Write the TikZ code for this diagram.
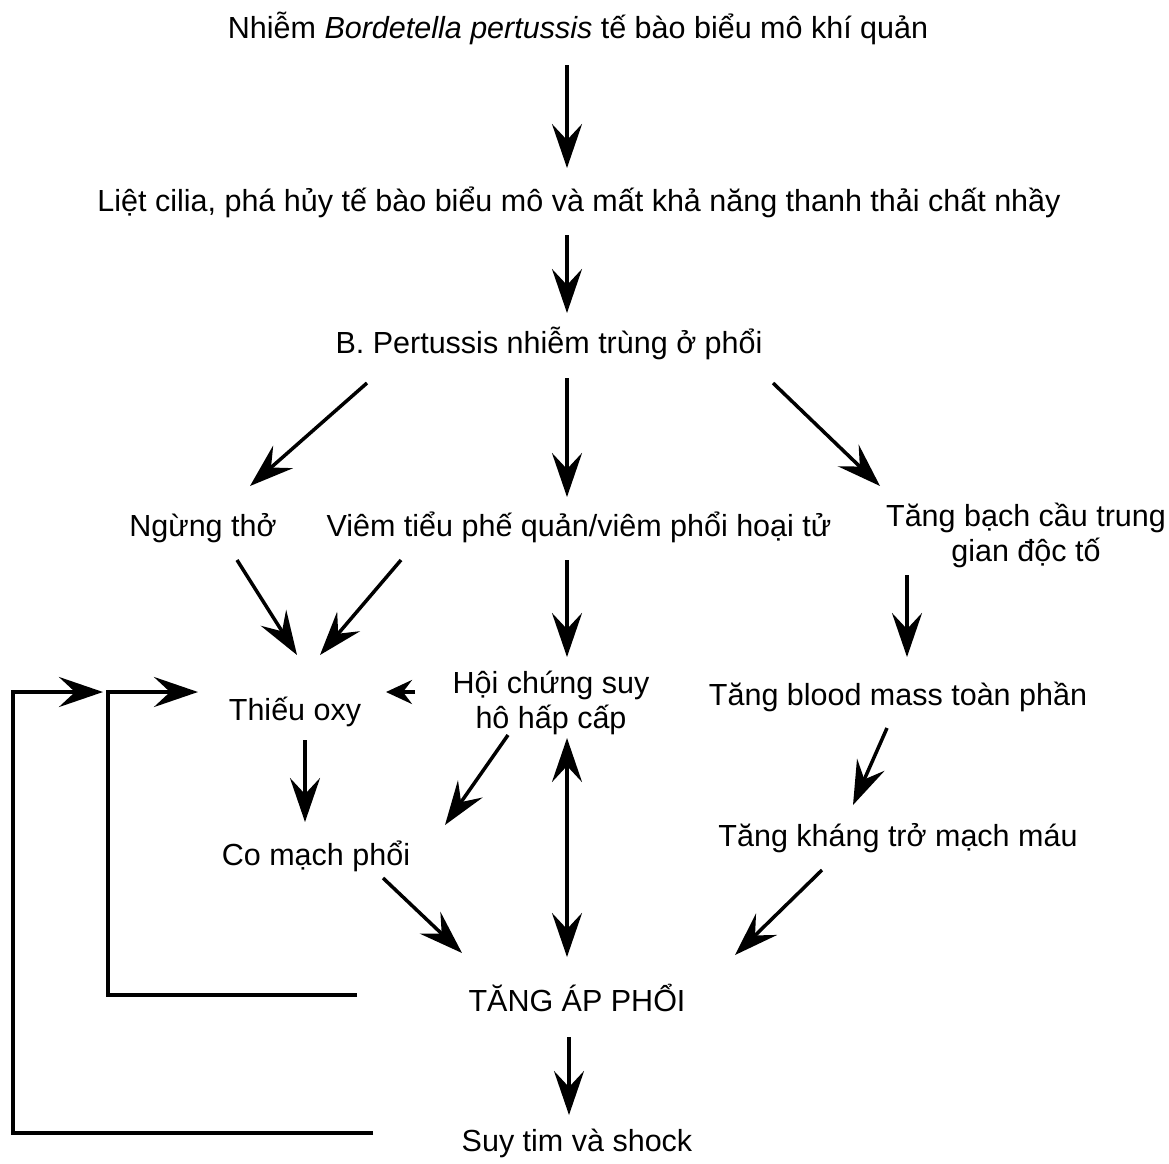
\documentclass[tikz,border=0pt]{standalone}
\usepackage{fontspec}
\setmainfont{Liberation Sans}
\usetikzlibrary{arrows.meta}
\tikzset{
        txt/.style={inner sep=0pt,text height=24pt,text depth=8pt,font=\fontsize{30.5}{35}\selectfont},
        txt2/.style={inner sep=0pt,align=center,font=\fontsize{30.5}{35}\selectfont},
        arr/.style={line width=3.5pt,-{Stealth[length=44pt,width=30pt,inset=16pt]}},
        fb/.style={line width=4pt,-{Stealth[length=44pt,width=30pt,inset=16pt]}}
}
\begin{document}
\begin{tikzpicture}[x=1pt,y=-1pt]
        \useasboundingbox[fill=white] (0,0) rectangle (1169,1163);
        \node[txt] (nhiem) at (578,30) {Nhiễm \textit{Bordetella pertussis} tế bào biểu mô khí quản};
        \node[txt] (liet) at (579,203) {Liệt cilia, phá hủy tế bào biểu mô và mất khả năng thanh thải chất nhầy};
        \node[txt] (bp) at (549,345) {B. Pertussis nhiễm trùng ở phổi};
        \node[txt] (ngung) at (203,528) {Ngừng thở};
        \node[txt] (viem) at (579,528) {Viêm tiểu phế quản/viêm phổi hoại tử};
        \node[txt2] (bach) at (1026,535) {Tăng bạch cầu trung\\gian độc tố};
        \node[txt] (thieu) at (295,712) {Thiếu oxy};
        \node[txt2] (hoi) at (551,703) {Hội chứng suy\\hô hấp cấp};
        \node[txt] (blood) at (898,697) {Tăng blood mass toàn phần};
        \node[txt] (co) at (316,857) {Co mạch phổi};
        \node[txt] (khang) at (898,838) {Tăng kháng trở mạch máu};
        \node[txt] (tang) at (577,1003) {TĂNG ÁP PHỔI};
        \node[txt] (suy) at (577,1143) {Suy tim và shock};
        \draw[arr] ([shift={(-11,35)}]nhiem.center) -- ([shift={(-12,-35)}]liet.center);
        \draw[arr] ([shift={(-12,32)}]liet.center) -- ([shift={(18,-32)}]bp.center);
        \draw[arr] ([shift={(-182,38)}]bp.center) -- ([shift={(47,-42)}]ngung.center);
        \draw[arr] ([shift={(18,33)}]bp.center) -- ([shift={(-12,-31)}]viem.center);
        \draw[arr] ([shift={(224,38)}]bp.center) -- ([shift={(-146,-49)}]bach.center);
        \draw[arr] ([shift={(34,32)}]ngung.center) -- ([shift={(2,-57)}]thieu.center);
        \draw[arr] ([shift={(-178,32)}]viem.center) -- ([shift={(25,-57)}]thieu.center);
        \draw[arr] ([shift={(-12,32)}]viem.center) -- ([shift={(16,-46)}]hoi.center);
        \draw[arr] ([shift={(-119,40)}]bach.center) -- ([shift={(9,-40)}]blood.center);
        \draw[arr,-{Stealth[length=26pt,width=24pt,inset=9pt]}] ([shift={(-136,-11)}]hoi.center) -- ([shift={(91,-20)}]thieu.center);
        \draw[arr] ([shift={(10,28)}]thieu.center) -- ([shift={(-11,-35)}]co.center);
        \draw[arr] ([shift={(-43,32)}]hoi.center) -- ([shift={(129,-32)}]co.center);
        \draw[arr,{Stealth[length=44pt,width=30pt,inset=16pt]}-{Stealth[length=44pt,width=30pt,inset=16pt]}] ([shift={(16,35)}]hoi.center) -- ([shift={(-10,-46)}]tang.center);
        \draw[arr] ([shift={(-11,31)}]blood.center) -- ([shift={(-45,-33)}]khang.center);
        \draw[arr] ([shift={(67,21)}]co.center) -- ([shift={(-115,-50)}]tang.center);
        \draw[arr] ([shift={(-76,32)}]khang.center) -- ([shift={(158,-48)}]tang.center);
        \draw[arr] ([shift={(-8,34)}]tang.center) -- ([shift={(-8,-28)}]suy.center);
        \draw[fb] ([shift={(-220,-8)}]tang.center) -- ++(-249,0) |- ([shift={(-97,-20)}]thieu.center);
        \draw[fb] ([shift={(-204,-10)}]suy.center) -- ++(-360,0) |- ([shift={(-192,-20)}]thieu.center);
\end{tikzpicture}
\end{document}
